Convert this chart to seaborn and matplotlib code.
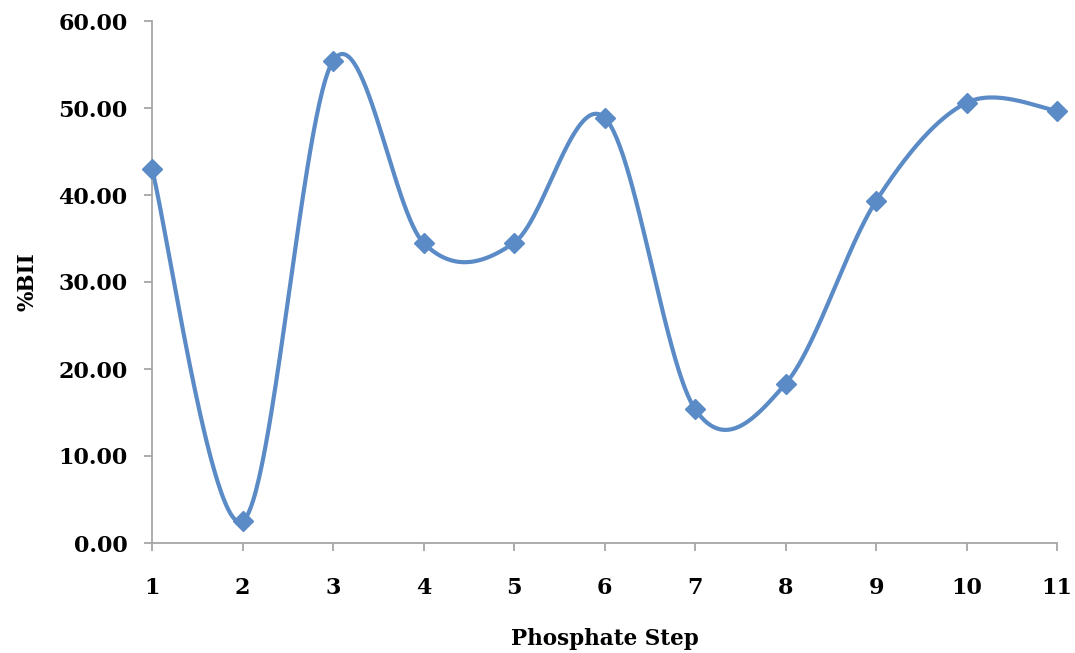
import numpy as np
import pandas as pd
import matplotlib
matplotlib.use("Agg")
import matplotlib.pyplot as plt
import seaborn as sns

steps = [1, 2, 3, 4, 5, 6, 7, 8, 9, 10, 11]
bii = [43.0, 2.5, 55.4, 34.5, 34.5, 48.9, 15.4, 18.3, 39.3, 50.6, 49.7]
y_ticks = [0, 10, 20, 30, 40, 50, 60]
x_label = "Phosphate Step"
y_label = "%BII"

LINE_COLOR = "#5A8BC6"
SPINE_COLOR = "#A6A6A6"

sns.set_style("white")
plt.rcParams['font.family'] = ['DejaVu Serif']
plt.rcParams['font.weight'] = 'bold'


def smooth_curve(xs, ys, n=60):
    """Excel-like Catmull-Rom Bezier smoothing through the data points."""
    P = np.column_stack([xs, ys]).astype(float)
    ext = np.vstack([P[0], P, P[-1]])
    out = []
    for i in range(len(P) - 1):
        p0, p1, p2, p3 = ext[i], ext[i + 1], ext[i + 2], ext[i + 3]
        c1 = p1 + (p2 - p0) / 6.0
        c2 = p2 - (p3 - p1) / 6.0
        t = np.linspace(0, 1, n, endpoint=(i == len(P) - 2))[:, None]
        seg = ((1 - t) ** 3) * p1 + 3 * ((1 - t) ** 2) * t * c1 + 3 * (1 - t) * t ** 2 * c2 + t ** 3 * p2
        out.append(seg)
    out = np.vstack(out)
    return out[:, 0], out[:, 1]


sx, sy = smooth_curve(steps, bii)
curve = pd.DataFrame({"x": sx, "y": sy})
pts = pd.DataFrame({"step": steps, "bii": bii})

fig = plt.figure(figsize=(10.75, 6.53), dpi=100)
ax = fig.add_axes([152 / 1075, 1 - 543 / 653, (1057 - 152) / 1075, (543 - 21) / 653])

sns.lineplot(data=curve, x="x", y="y", ax=ax, sort=False, color=LINE_COLOR,
             linewidth=3.0, solid_capstyle="round", solid_joinstyle="round", clip_on=False)
ax.plot(pts["step"], pts["bii"], linestyle="none", marker="D", markersize=10,
        color=LINE_COLOR, markeredgecolor=LINE_COLOR, clip_on=False, zorder=5)

ax.set_xlim(1, 11)
ax.set_ylim(0, 60)
ax.set_xticks(steps)
ax.set_xticklabels([str(s) for s in steps])
ax.set_yticks(y_ticks)
ax.set_yticklabels([f"{v:.2f}" for v in y_ticks])

for side in ["top", "right"]:
    ax.spines[side].set_visible(False)
for side in ["left", "bottom"]:
    ax.spines[side].set_color(SPINE_COLOR)
    ax.spines[side].set_linewidth(1.3)

ax.tick_params(axis="both", which="major", direction="out", length=5.5, width=1.3,
               color=SPINE_COLOR, labelsize=16, labelcolor="black")
ax.tick_params(axis="y", pad=12)
ax.tick_params(axis="x", pad=19)
ax.xaxis.set_ticks_position("bottom")
ax.yaxis.set_ticks_position("left")
for lab in ax.get_xticklabels() + ax.get_yticklabels():
    lab.set_fontweight("bold")

ax.set_xlabel(x_label, fontsize=15.5, fontweight="bold", labelpad=21, color="black")
ax.set_ylabel(y_label, fontsize=15.5, fontweight="bold", labelpad=14, color="black")
ax.grid(False)
ax.set_facecolor("white")
fig.patch.set_facecolor("white")

fig.savefig("out.png", dpi=100, facecolor="white")
